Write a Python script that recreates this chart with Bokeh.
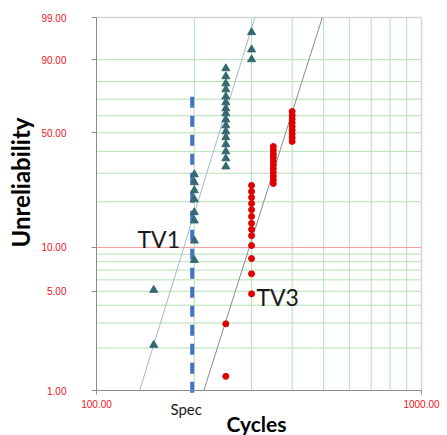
import math
from bokeh.plotting import figure
from bokeh.models import FixedTicker, Label
from bokeh.embed import file_html
from bokeh.resources import INLINE

# ---------------- data ----------------
tv1_cycles = [150, 150,
              200, 200, 200, 200, 200, 200, 200, 200,
              250, 250, 250, 250, 250, 250, 250, 250, 250, 250, 250, 250, 250, 250, 250, 250,
              300, 300, 300]
tv1_unrel = [2.1, 5.1,
             8.2, 11.1, 15.1, 17.1, 20.7, 23.6, 26.4, 29.5,
             32.8, 36.5, 39.9, 43.6, 47.4, 50.7, 54.2, 57.7, 61.4, 64.4, 68.0, 71.5, 75.6, 78.9, 82.6, 86.4,
             90.1, 93.4, 97.3]
tv3_cycles = [250, 250,
              300, 300, 300, 300, 300, 300, 300, 300, 300, 300, 300, 300, 300,
              350, 350, 350, 350, 350, 350, 350, 350, 350, 350, 350,
              400, 400, 400, 400, 400, 400, 400, 400, 400]
tv3_unrel = [1.26, 2.96,
             4.8, 6.6, 8.4, 10.3, 12.0, 13.2, 14.5, 16.1, 17.8, 19.5, 21.3, 23.2, 25.3,
             26.0, 27.4, 28.8, 30.3, 31.9, 33.5, 35.2, 37.0, 38.7, 40.6, 42.5,
             45.2, 47.2, 49.3, 51.5, 53.6, 55.8, 58.1, 60.3, 62.6]
fit_names = ["TV1", "TV3"]
fit_beta = [7.5, 7.3]
fit_eta = [250.6, 401.7]
fit_colors = ["#a7b9c4", "#8a8a8a"]
spec_cycles = 197
spec_unrel = [71.5, 0.85]

y_tick_pcts = [1, 5, 10, 50, 90, 99]
y_grid_pcts = [2, 3, 4, 5, 6, 7, 8, 9, 20, 30, 40, 50, 60, 70, 80, 90]
x_min, x_max = 100, 1000
x_tick_vals = [100, 1000]
x_grid_vals = [200, 300, 400, 500, 600, 700, 800, 900]


def w(pct):
    return math.log(-math.log(1.0 - pct / 100.0))


RED = "#e8141c"
FONT = "Liberation Sans"
LFONT = "Lato"
GRID = "#b4e0b4"

# plot box inside the 447x435 canvas: x 96..421, y 17..390 (pixels)
W_LO, W_HI = w(1), w(99)
W_SPAN = W_HI - W_LO
Y_START = W_LO - (45.0 / 373.0) * W_SPAN
Y_END = W_HI + (17.0 / 373.0) * W_SPAN
X_START = x_min * 10 ** (-96.0 / 325.0)
X_END = x_max * 10 ** (26.0 / 325.0)

p = figure(width=447, height=435, x_axis_type="log",
           x_range=(X_START, X_END), y_range=(Y_START, Y_END),
           output_backend="svg", toolbar_location=None,
           min_border_left=0, min_border_right=0,
           min_border_top=0, min_border_bottom=0)
p.background_fill_color = "white"
p.border_fill_color = "white"
p.outline_line_color = None
p.xgrid.grid_line_color = None
p.ygrid.grid_line_color = None

# grid lines
p.segment(x0=x_grid_vals, y0=[W_LO] * len(x_grid_vals), x1=x_grid_vals, y1=[W_HI] * len(x_grid_vals),
          line_color=GRID, line_width=1)
gy = [w(v) for v in y_grid_pcts]
p.segment(x0=[x_min] * len(gy), y0=gy, x1=[x_max] * len(gy), y1=gy, line_color=GRID, line_width=1)
p.segment(x0=[x_min], y0=[w(10)], x1=[x_max], y1=[w(10)], line_color="#f2a0a4", line_width=1)
# plot border (top and right)
p.segment(x0=[x_min, x_max], y0=[W_HI, W_LO], x1=[x_max, x_max], y1=[W_HI, W_HI],
          line_color="#d6d6d6", line_width=1.5)

# axes
p.xaxis.ticker = FixedTicker(ticks=x_tick_vals)
p.xaxis.major_label_overrides = {v: f"{v:.2f}" for v in x_tick_vals}
p.xaxis.fixed_location = W_LO
p.xaxis.bounds = (x_min, x_max)
p.yaxis.ticker = FixedTicker(ticks=[w(v) for v in y_tick_pcts])
p.yaxis.major_label_overrides = {w(v): f"{v:.2f}" for v in y_tick_pcts}
p.yaxis.fixed_location = x_min
p.yaxis.bounds = (W_LO, W_HI)
for ax in (p.xaxis, p.yaxis):
    ax.axis_line_color = "#8c8c8c"
    ax.major_tick_line_color = "#8c8c8c"
    ax.minor_tick_line_color = None
    ax.major_tick_in = 0
    ax.major_label_text_color = RED
    ax.major_label_text_font = FONT
    ax.major_label_text_font_size = "10px"
p.xaxis.major_tick_out = 4
p.xaxis.major_label_standoff = 5
p.yaxis.major_tick_out = 5
p.yaxis.major_label_standoff = 25

# fit lines (between the 1 % and 99 % lines)
for b, e, c in zip(fit_beta, fit_eta, fit_colors):
    ys = [W_LO, W_HI]
    xs = [e * math.exp(y / b) for y in ys]
    p.line(xs, ys, line_color=c, line_width=1)

# spec line
p.segment(x0=[spec_cycles], y0=[w(spec_unrel[0])], x1=[spec_cycles], y1=[w(spec_unrel[1])],
          line_color="#4472c4", line_width=4, line_dash="11 8")

# data
p.scatter([float(x) for x in tv1_cycles], [w(v) for v in tv1_unrel], marker="triangle",
          size=8, fill_color="#34696f", line_color="#34696f")
p.scatter([float(x) for x in tv3_cycles], [w(v) for v in tv3_unrel], marker="circle",
          size=6, fill_color="#e00000", line_color="#e00000")

# texts
p.add_layout(Label(x=133.7, y=w(10), y_offset=8, text="TV1", text_font=LFONT, text_font_size="23px",
                   text_color="#1a1a1a", text_baseline="alphabetic"))
p.add_layout(Label(x=310.6, y=w(4), y_offset=8, text="TV3", text_font=LFONT, text_font_size="23px",
                   text_color="#1a1a1a", text_baseline="alphabetic"))
p.add_layout(Label(x=spec_cycles, y=W_LO, x_offset=-6, y_offset=-18, text="Spec",
                   text_font=LFONT, text_font_size="15px", text_color="#1a1a1a",
                   text_align="center", text_baseline="alphabetic"))
p.add_layout(Label(x=310.6, y=W_LO, y_offset=-33, text="Cycles",
                   text_font=LFONT, text_font_size="21px", text_font_style="bold",
                   text_color="#000000", text_align="center", text_baseline="alphabetic"))
p.add_layout(Label(x=x_min, y=W_LO, x_offset=-76, y_offset=143, angle=math.pi / 2,
                   text="Unreliability", text_font=LFONT, text_font_size="24px",
                   text_font_style="bold", text_color="#000000",
                   text_align="left", text_baseline="alphabetic"))

open("out.html", "w").write(file_html(p, INLINE))
